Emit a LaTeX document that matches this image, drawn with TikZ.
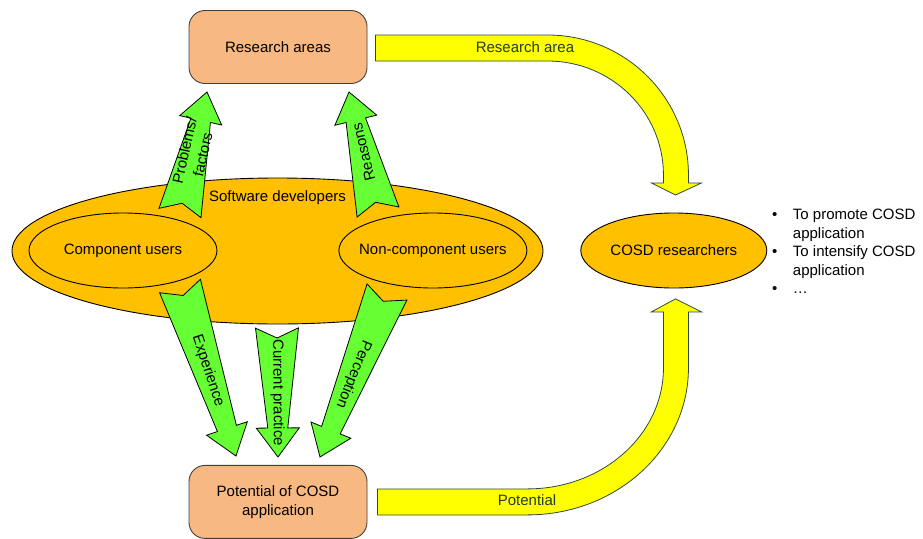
\documentclass[tikz,border=0pt]{standalone}
\usepackage{fontspec}
\setmainfont{Liberation Sans}
\usepackage{tikz}
\usetikzlibrary{positioning, shapes.geometric, calc}
\usepackage{xcolor}

\definecolor{boxsalmon}{RGB}{248,184,130}
\definecolor{boxedge}{RGB}{64,64,64}
\definecolor{crowdorange}{RGB}{255,192,0}
\definecolor{flowgreen}{RGB}{102,255,51}
\definecolor{flowyellow}{RGB}{255,255,0}
\definecolor{flowedge}{RGB}{45,75,65}
\definecolor{flowlabel}{RGB}{35,60,50}

% notched block arrow: tail, tip, label
\newcommand{\notchedarrow}[3]{%
  \path let \p1=($(#2)-(#1)$) in
    \pgfextra{\pgfmathparse{atan2(\y1,\x1)}\xdef\arrang{\pgfmathresult}%
              \pgfmathparse{veclen(\x1,\y1)}\xdef\arrlen{\pgfmathresult}};
  \begin{scope}[shift={(#1)}, rotate=\arrang]
    \draw[greenflow] (0,21.5) -- (\arrlen-29,10) -- (\arrlen-29,21.5) -- (\arrlen,0)
      -- (\arrlen-29,-21.5) -- (\arrlen-29,-10) -- (0,-21.5) -- (10,0) -- cycle;
    \node[transform shape, align=center] at (\arrlen/2,0) {#3};
  \end{scope}%
}

\begin{document}
\begin{tikzpicture}[x=1pt, y=1pt,
    every node/.style={font=\fontsize{15}{18.5}\selectfont},
    box/.style={draw=boxedge, line width=0.9pt, rounded corners=16pt, fill=boxsalmon,
      minimum width=178pt, minimum height=73pt, align=center},
    crowd/.style={draw, line width=0.9pt, ellipse, fill=crowdorange, inner sep=0pt},
    usergroup/.style={crowd, inner xsep=-14pt, minimum width=188pt, minimum height=75pt},
    greenflow/.style={draw, line width=0.8pt, fill=flowgreen},
    yellowflow/.style={draw=flowedge, line width=0.8pt, fill=flowyellow},
    flowtext/.style={text=flowlabel}]
    \useasboundingbox (0,0) rectangle (923,-538);

    \node[box] (research) at (278,-47) {Research areas};
    \node[box, below=381pt of research] (potential) {Potential of COSD\\application};

    \node[crowd, minimum width=531pt, minimum height=146pt] (devs) at (277.5,-251) {};
    \node[below=10pt of devs.north] (devs-label) {Software developers};
    \node[usergroup] (compusers) at (123,-250.5) {Component users};
    \node[usergroup, right=121pt of compusers] (noncompusers) {Non-component users};

    \node[usergroup, minimum width=186pt, right=53pt of noncompusers] (cosd) {COSD researchers};
    \node[anchor=base west, inner sep=0pt] (goals) at (772,-219.5) {%
      \begin{tabular}[t]{@{}l@{\hspace{15.5pt}}l@{}}
        \textbullet & To promote COSD\\
                    & application\\
        \textbullet & To intensify COSD\\
                    & application\\
        \textbullet & …
      \end{tabular}};

    % ends of the green arrows
    \coordinate (pf-tail) at (180,-213);
    \coordinate (pf-tip) at (207,-92);
    \coordinate (rs-tail) at (378,-212);
    \coordinate (rs-tip) at (349,-92);
    \coordinate (ex-tail) at (180,-286);
    \coordinate (ex-tip) at (236,-456);
    \coordinate (cp-tail) at (277,-328);
    \coordinate (cp-tip) at (278,-457);
    \coordinate (pc-tail) at (387,-292);
    \coordinate (pc-tip) at (320,-457);

    \notchedarrow{pf-tail}{pf-tip}{Problems/\\factors}
    \notchedarrow{rs-tail}{rs-tip}{Reasons}
    \notchedarrow{ex-tail}{ex-tip}{Experience}
    \notchedarrow{cp-tail}{cp-tip}{Current practice}
    \notchedarrow{pc-tail}{pc-tip}{Perception}

    % curved arrows to the researchers
    \draw[yellowflow] ($(research.east)+(8,12)$) -- ++(172,0)
      arc[start angle=90, end angle=0, x radius=141, y radius=140]
      -- ++(0,-8) -- ++(13,0) -- ++(-26,-12) -- ++(-24,12) -- ++(12,0) -- ++(0,8)
      arc[start angle=0, end angle=90, x radius=116, y radius=114]
      -- ++(-172,0) -- cycle;
    \node[flowtext] (research-flow) at (525,-47) {Research area};

    \draw[yellowflow] ($(potential.east)+(10,13)$) -- ++(150,0)
      arc[start angle=-90, end angle=0, x radius=136, y radius=121]
      -- ++(0,56) -- ++(-12,0) -- ++(24,13) -- ++(26,-13) -- ++(-13,0) -- ++(0,-56)
      arc[start angle=0, end angle=-90, x radius=161, y radius=147]
      -- ++(-150,0) -- cycle;
    \node[flowtext] (potential-flow) at (527,-500) {Potential};
\end{tikzpicture}
\end{document}
